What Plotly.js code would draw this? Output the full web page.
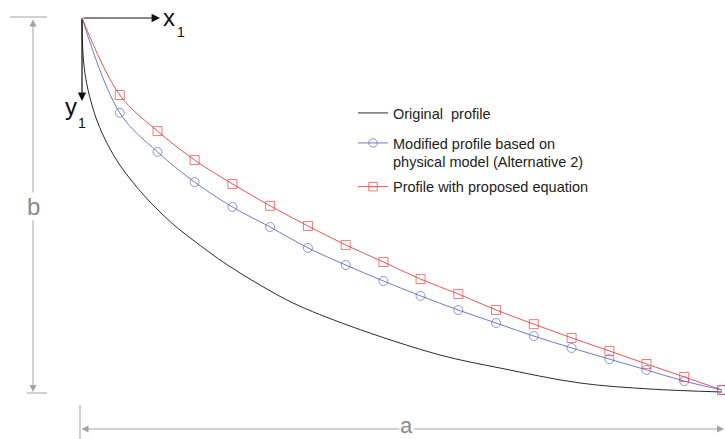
<!DOCTYPE html>
<html>
<head>
<meta charset="utf-8">
<script src="https://cdn.plot.ly/plotly-3.0.1.min.js"></script>
<style>html,body{margin:0;padding:0;background:#fff;}#chart{width:725px;height:439px;}</style>
</head>
<body>
<div id="chart"></div>
<script>
// x / a and y1 / b (depth, downwards)
const originalX = [0, 0.0005, 0.0023, 0.0050, 0.0094, 0.0156, 0.0230, 0.0328, 0.0447, 0.0591, 0.0766, 0.0963, 0.1188, 0.1438, 0.1734, 0.2250, 0.2781, 0.3297, 0.4188, 0.5594, 0.6531, 0.7781, 0.8875, 1.0];
const originalY = [0, 0.0591, 0.1129, 0.1532, 0.1935, 0.2339, 0.2742, 0.3145, 0.3548, 0.3952, 0.4355, 0.4758, 0.5161, 0.5565, 0.5968, 0.6613, 0.7177, 0.7661, 0.8280, 0.9059, 0.9409, 0.9812, 0.9973, 1.0054];
const stationX = [0, 0.059, 0.118, 0.176, 0.235, 0.294, 0.353, 0.412, 0.471, 0.529, 0.588, 0.647, 0.706, 0.765, 0.824, 0.882, 0.941, 1.0];
const modifiedY = [0, 0.255, 0.360, 0.441, 0.508, 0.562, 0.618, 0.664, 0.707, 0.747, 0.785, 0.820, 0.855, 0.887, 0.917, 0.946, 0.976, 1.0];
const proposedY = [0, 0.207, 0.304, 0.382, 0.446, 0.505, 0.559, 0.610, 0.656, 0.702, 0.742, 0.785, 0.823, 0.860, 0.895, 0.930, 0.965, 1.0];
const seriesNames = ['Original  profile', 'Modified profile based on<br>physical model (Alternative 2)', 'Profile with proposed equation'];

// pixel helpers for the drawing decorations
const W = 725, H = 439, OX = 82, OY = 18, SX = 640, SY = 372;
const X = px => (px - OX) / SX;
const Y = py => (py - OY) / SY;
const msize = stationX.map((v, i) => i === 0 ? 0 : 9);
const FONT = 'Liberation Sans, Arial, sans-serif';
const GRAY = '#a3a3a3';
const LEGFONT = {family: FONT, size: 14.5, color: '#222'};

const traces = [
  {x: originalX, y: originalY, name: seriesNames[0], mode: 'lines', legend: 'legend2',
   line: {color: '#2b2b2b', width: 1, shape: 'spline', smoothing: 1}},
  {x: stationX, y: modifiedY, name: seriesNames[1], mode: 'lines+markers', legendgroup: 'g2',
   line: {color: '#6b7cc8', width: 1, shape: 'spline'},
   marker: {symbol: 'circle-open', size: msize, color: '#5a6cc4', line: {width: 1}}},
  {x: stationX, y: proposedY, name: seriesNames[2], mode: 'lines+markers', legendgroup: 'g3',
   line: {color: '#f25252', width: 1, shape: 'spline'},
   marker: {symbol: 'square-open', size: msize, color: '#ee4040', line: {width: 1}}}
];

const arrow = (x0, y0, x1, y1, color, side, w) => ({
  x: X(x1), y: Y(y1), ax: X(x0), ay: Y(y0), xref: 'x', yref: 'y', axref: 'x', ayref: 'y',
  text: '', showarrow: true, arrowhead: 2, arrowsize: 1.4, arrowwidth: w, arrowcolor: color,
  arrowside: side, standoff: 0, startstandoff: 0, startarrowhead: 2, startarrowsize: 1.4
});
const label = (txt, px, py, size, color, bg) => ({
  x: X(px), y: Y(py), xref: 'x', yref: 'y', text: txt, showarrow: false,
  font: {family: FONT, size: size, color: color}, bgcolor: bg || 'rgba(0,0,0,0)',
  xanchor: 'center', yanchor: 'middle', borderpad: 0
});

const layout = {
  width: W, height: H,
  margin: {l: 0, r: 0, t: 0, b: 0, pad: 0},
  paper_bgcolor: '#fff', plot_bgcolor: '#fff',
  xaxis: {range: [X(0), X(W)], visible: false, fixedrange: true},
  yaxis: {range: [Y(H), Y(0)], visible: false, fixedrange: true},
  showlegend: true,
  legend2: {x: 353 / W, xanchor: 'left', y: 1 - 97 / H, yanchor: 'top', valign: 'top',
            bgcolor: 'rgba(0,0,0,0)', borderwidth: 0, font: LEGFONT},
  legend: {x: 353 / W, xanchor: 'left', y: 1 - 127 / H, yanchor: 'top', valign: 'top',
           bgcolor: 'rgba(0,0,0,0)', borderwidth: 0, traceorder: 'grouped', tracegroupgap: 3,
           font: LEGFONT},
  shapes: [
    {type: 'line', xref: 'x', yref: 'y', x0: X(10), x1: X(47), y0: Y(17), y1: Y(17), line: {color: GRAY, width: 1}},
    {type: 'line', xref: 'x', yref: 'y', x0: X(27), x1: X(47), y0: Y(393), y1: Y(393), line: {color: GRAY, width: 1}},
    {type: 'line', xref: 'x', yref: 'y', x0: X(80), x1: X(80), y0: Y(405), y1: Y(439), line: {color: GRAY, width: 1}}
  ],
  annotations: [
    arrow(82, 18, 160, 18, '#111', 'end', 1.2),
    arrow(82, 18, 82, 101, '#111', 'end', 1.2),
    arrow(33, 18, 33, 392, GRAY, 'end+start', 1),
    arrow(80, 429, 724, 429, GRAY, 'end+start', 1),
    label('x', 169, 17, 24, '#111'),
    label('1', 181, 32, 14, '#111'),
    label('y', 71, 106, 24, '#111'),
    label('1', 82, 123, 14, '#111'),
    label('b', 33, 206, 24, '#8a8a8a', '#fff'),
    label('a', 406, 425, 22, '#8a8a8a', '#fff')
  ]
};

Plotly.newPlot('chart', traces, layout, {displayModeBar: false, staticPlot: true});
</script>
</body>
</html>
